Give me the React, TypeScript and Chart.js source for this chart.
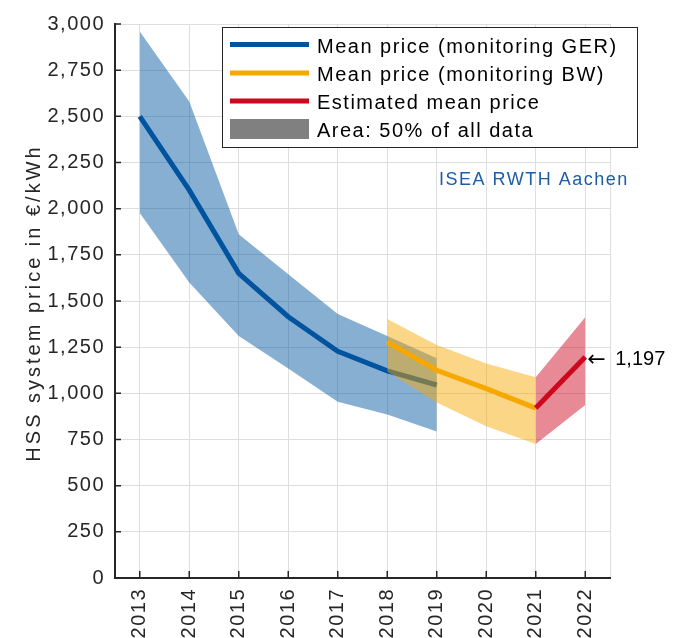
import React, { useEffect, useRef } from "react";
import { Chart, registerables } from "chart.js";

Chart.register(...registerables);

// ---------- data ----------
const years = [2013, 2014, 2015, 2016, 2017, 2018, 2019, 2020, 2021, 2022];

const gerYears = [2013, 2014, 2015, 2016, 2017, 2018, 2019];
const gerMean = [2500, 2100, 1650, 1415, 1228, 1122, 1045];
const gerUpper = [2960, 2580, 1862, 1645, 1430, 1310, 1190];
const gerLower = [1977, 1600, 1310, 1134, 955, 885, 793];

const bwYears = [2018, 2019, 2020, 2021];
const bwMean = [1278, 1125, 1025, 920];
const bwUpper = [1402, 1262, 1162, 1087];
const bwLower = [1118, 950, 822, 726];

const estYears = [2021, 2022];
const estMean = [920, 1197];
const estUpper = [1087, 1412];
const estLower = [726, 937];

const legendLabels = [
  "Mean price (monitoring GER)",
  "Mean price (monitoring BW)",
  "Estimated mean price",
  "Area: 50% of all data",
];
const yTitle = "HSS system price in €/kWh";
const sourceLabel = "ISEA RWTH Aachen";
const annotationYear = 2022;
const annotationValue = 1197;

// ---------- styles ----------
const BLUE = "#00549F";
const YELLOW = "#F6A800";
const RED = "#CC071E";
const BLUE_BAND = "rgba(0,84,159,0.47)";
const YELLOW_BAND = "rgba(246,168,0,0.47)";
const RED_BAND = "rgba(204,7,30,0.47)";
const GRAY_PATCH = "#808080";
const AXIS = "#262626";
const GRID = "#dedede";
const FONT = "'Liberation Sans', Arial, sans-serif";

const pts = (xs: number[], ys: number[]) => xs.map((x, i) => ({ x, y: ys[i] }));

const bandDs = (data: any[], color: string, fillTo: number | boolean, order: number) => ({
  data,
  borderColor: "transparent",
  borderWidth: 0,
  backgroundColor: color,
  pointRadius: 0,
  fill: fillTo,
  order,
});

const lineDs = (data: any[], color: string, order: number) => ({
  data,
  borderColor: color,
  borderWidth: 5,
  backgroundColor: color,
  pointRadius: 0,
  fill: false,
  order,
});

const overlayPlugin = {
  id: "overlay",
  beforeDraw(chart: any) {
    chart.ctx.letterSpacing = "1.5px";
  },
  afterDraw(chart: any) {
    const ctx = chart.ctx;
    const { left, top, bottom } = chart.chartArea;
    const xs = chart.scales.x;
    const ys = chart.scales.y;
    ctx.save();
    ctx.letterSpacing = "1.5px";
    // inward ticks
    ctx.strokeStyle = AXIS;
    ctx.lineWidth = 1.5;
    ctx.beginPath();
    ys.ticks.forEach((t: any) => {
      const py = ys.getPixelForValue(t.value);
      ctx.moveTo(left, py);
      ctx.lineTo(left + 6, py);
    });
    years.forEach((yr) => {
      const px = xs.getPixelForValue(yr);
      ctx.moveTo(px, bottom);
      ctx.lineTo(px, bottom - 7);
    });
    ctx.stroke();

    // y-axis title
    ctx.save();
    ctx.translate(39.5, (top + bottom) / 2 + 2);
    ctx.rotate(-Math.PI / 2);
    ctx.letterSpacing = "3px";
    ctx.fillStyle = AXIS;
    ctx.font = `20px ${FONT}`;
    ctx.textAlign = "center";
    ctx.textBaseline = "alphabetic";
    ctx.fillText(yTitle, 0, 0);
    ctx.restore();

    // legend box
    const bx = 222, by = 27, bw = 415, bh = 120;
    ctx.fillStyle = "#ffffff";
    ctx.fillRect(bx, by, bw, bh);
    ctx.strokeStyle = AXIS;
    ctx.lineWidth = 1;
    ctx.strokeRect(bx + 0.5, by + 0.5, bw, bh);
    const rows = [44.5, 73, 101, 129];
    const colors = [BLUE, YELLOW, RED];
    colors.forEach((c, i) => {
      ctx.strokeStyle = c;
      ctx.lineWidth = 5;
      ctx.beginPath();
      ctx.moveTo(230, rows[i]);
      ctx.lineTo(309, rows[i]);
      ctx.stroke();
    });
    ctx.fillStyle = GRAY_PATCH;
    ctx.fillRect(230, rows[3] - 10, 79, 20);
    ctx.fillStyle = "#000000";
    ctx.font = `20px ${FONT}`;
    ctx.textAlign = "left";
    ctx.textBaseline = "alphabetic";
    legendLabels.forEach((lab, i) => {
      ctx.fillText(lab, 317, rows[i] + 8);
    });

    // source label
    ctx.fillStyle = "#1b5ea6";
    ctx.font = `18px ${FONT}`;
    ctx.fillText(sourceLabel, 439, 185);

    // annotation
    const ax = xs.getPixelForValue(annotationYear);
    const ay = ys.getPixelForValue(annotationValue);
    ctx.fillStyle = "#000000";
    ctx.letterSpacing = "0px";
    ctx.font = `22px 'DejaVu Sans', sans-serif`;
    ctx.textBaseline = "middle";
    ctx.fillText("←", ax + 2, ay + 3);
    ctx.font = `20px ${FONT}`;
    ctx.textBaseline = "alphabetic";
    ctx.fillText(annotationValue.toLocaleString("en-US"), ax + 30, ay + 8);
    ctx.restore();
  },
};

export default function App() {
  const ref = useRef<HTMLCanvasElement | null>(null);

  useEffect(() => {
    if (!ref.current) return;
    const chart = new Chart(ref.current, {
      type: "line",
      data: {
        datasets: [
          bandDs(pts(gerYears, gerUpper), BLUE_BAND, 1, 10) as any,
          bandDs(pts(gerYears, gerLower), "transparent", false, 10) as any,
          lineDs(pts(gerYears, gerMean), BLUE, 9) as any,
          bandDs(pts(bwYears, bwUpper), YELLOW_BAND, 4, 8) as any,
          bandDs(pts(bwYears, bwLower), "transparent", false, 8) as any,
          lineDs(pts(bwYears, bwMean), YELLOW, 7) as any,
          bandDs(pts(estYears, estUpper), RED_BAND, 7, 6) as any,
          bandDs(pts(estYears, estLower), "transparent", false, 6) as any,
          lineDs(pts(estYears, estMean), RED, 5) as any,
        ],
      },
      options: {
        animation: false,
        responsive: false,
        devicePixelRatio: 1,
        layout: { padding: { top: 24, right: 71, left: 0, bottom: 0 } },
        plugins: { legend: { display: false }, tooltip: { enabled: false } },
        scales: {
          x: {
            type: "linear",
            min: 2012.5,
            max: 2022.5,
            afterBuildTicks: (s: any) => {
              s.ticks = [...years, 2022.5].map((v) => ({ value: v }));
            },
            afterFit: (s: any) => {
              s.height = 60;
            },
            ticks: {
              autoSkip: false,
              minRotation: 90,
              maxRotation: 90,
              padding: 10,
              color: AXIS,
              font: { family: FONT, size: 20 },
              callback: (v: any) => (Number.isInteger(Number(v)) ? String(v) : ""),
            },
            grid: { color: GRID, lineWidth: 1, drawTicks: false },
            border: { display: true, color: AXIS, width: 2 },
          },
          y: {
            min: 0,
            max: 3000,
            afterFit: (s: any) => {
              s.width = 115;
            },
            ticks: {
              stepSize: 250,
              padding: 10,
              color: AXIS,
              font: { family: FONT, size: 20 },
              callback: (v: any) => Number(v).toLocaleString("en-US"),
            },
            title: { display: false },
            grid: { color: GRID, lineWidth: 1, drawTicks: false },
            border: { display: true, color: AXIS, width: 2 },
          },
        },
      } as any,
      plugins: [overlayPlugin],
    });
    return () => chart.destroy();
  }, []);

  return (
    <div style={{ position: "absolute", left: 0, top: 0, width: 681, height: 638, background: "#fff" }}>
      <canvas ref={ref} width={681} height={638} />
    </div>
  );
}
